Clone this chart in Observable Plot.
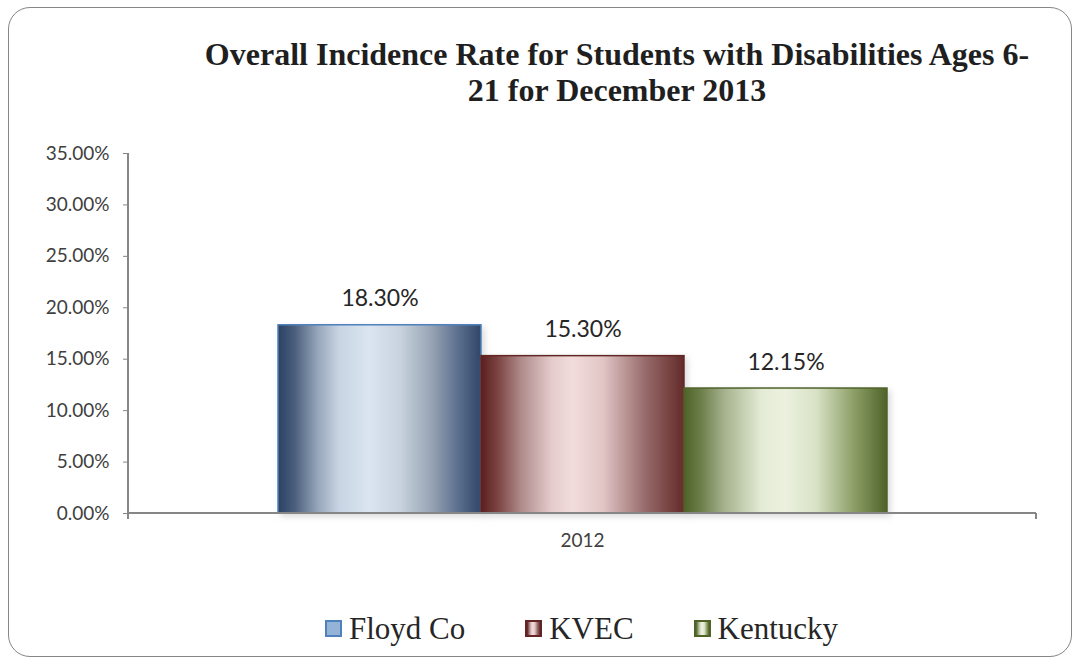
<!DOCTYPE html>
<html><head><meta charset="utf-8">
<script src="https://cdn.jsdelivr.net/npm/d3@7"></script>
<script src="https://cdn.jsdelivr.net/npm/@observablehq/plot@0.6"></script>
<style>
body{margin:0;background:#fff;}
#wrap{position:relative;width:1074px;height:658px;overflow:hidden;background:#fff;}
#frame{position:absolute;left:8px;top:7px;width:1064px;height:650px;border:1.5px solid #868686;border-radius:22px;box-sizing:border-box;}
#title{position:absolute;left:160px;width:914px;top:36px;text-align:center;font-family:'Liberation Serif','Tinos','DejaVu Serif',serif;font-weight:bold;font-size:32px;line-height:36px;color:#1f1f1f;}
#chart{position:absolute;left:0;top:0;}
#legend{position:absolute;left:0;width:1163px;top:613px;height:31px;display:flex;justify-content:center;align-items:center;font-family:'Liberation Serif','Tinos','DejaVu Serif',serif;font-size:31px;line-height:31px;color:#262626;}
.item{display:flex;align-items:center;margin:0 30px;}
.sw{width:17px;height:17px;box-sizing:border-box;margin-right:7px;}
</style></head>
<body>
<div id="wrap">
  <div id="frame"></div>
  <div id="title">Overall Incidence Rate for Students with Disabilities Ages 6-<br>21 for December 2013</div>
  <div id="chart"></div>
  <div id="legend"></div>
</div>
<script>
const years = ["2012"];
const series = ["Floyd Co", "KVEC", "Kentucky"];
const values = [0.183, 0.153, 0.1215];
const yTicks = [0, 0.05, 0.10, 0.15, 0.20, 0.25, 0.30, 0.35];
const edgeColors = ["#4f81bd", "#632523", "#4f6228"];
const gradIds = ["gFloyd", "gKVEC", "gKy"];
const gradStops = [
  [[0,"#2b4163"],[0.08,"#4a5d7c"],[0.2,"#98a8bd"],[0.3,"#c8d4e3"],[0.45,"#dbe5f1"],[0.6,"#c9d3df"],[0.75,"#9aa6b6"],[0.88,"#5f7290"],[1,"#2f4668"]],
  [[0,"#5c1f1d"],[0.08,"#7a4240"],[0.2,"#b08c8c"],[0.35,"#e6cccc"],[0.45,"#f2dcdb"],[0.6,"#e2c6c6"],[0.8,"#9a6e6e"],[1,"#632a28"]],
  [[0,"#4f6228"],[0.08,"#6b7d48"],[0.2,"#a6b28e"],[0.38,"#e3ebd5"],[0.5,"#ebf1de"],[0.65,"#d9e2c6"],[0.85,"#879a61"],[1,"#4f6228"]]
];

const rows = series.map((s, i) => ({year: years[0], series: s, value: values[i]}));
const fmt = d3.format(".2%");

function axisLines(index, scales, vals, dims) {
  const x0 = dims.marginLeft, x1 = dims.width - dims.marginRight;
  const yb = dims.height - dims.marginBottom, yt = dims.marginTop;
  const g = d3.create("svg:g").attr("stroke", "#868686").attr("stroke-width", 2).attr("fill", "none");
  g.append("path").attr("d", `M${x0},${yt}V${yb + 6}M${x1},${yb}V${yb + 6}M${x0},${yb}H${x1}`);
  return g.node();
}

const plot = Plot.plot({
  width: 1074,
  height: 658,
  marginLeft: 128,
  marginRight: 38,
  marginTop: 153,
  marginBottom: 145,
  style: {background: "transparent", fontFamily: "Lato, 'Open Sans', sans-serif", fontSize: "19px", color: "#868686"},
  facet: {data: rows, x: "year"},
  fx: {domain: years, padding: 0, axis: "bottom", label: null, tickSize: 0, tickPadding: 20},
  x: {domain: series, axis: null, paddingInner: 0, paddingOuter: 0.736},
  y: {domain: [0, 0.35], ticks: yTicks, tickFormat: fmt, tickSize: 5, tickPadding: 14, label: null},
  marks: [
    ...series.map((s, i) => Plot.barY(rows.filter(d => d.series === s), {
      x: "series", y: "value", fill: `url(#${gradIds[i]})`, stroke: edgeColors[i], strokeWidth: 1.5
    })),
    axisLines,
    Plot.text(rows, {x: "series", y: "value", text: d => fmt(d.value), lineAnchor: "bottom", dy: -19, fontSize: 23, fill: "#262626"})
  ]
});

const svg = d3.select(plot.tagName.toLowerCase() === "svg" ? plot : plot.querySelector("svg"));
const defs = svg.insert("defs", ":first-child");
gradIds.forEach((id, i) => {
  const lg = defs.append("linearGradient").attr("id", id).attr("x1", 0).attr("x2", 1).attr("y1", 0).attr("y2", 0);
  gradStops[i].forEach(([o, c]) => lg.append("stop").attr("offset", o).attr("stop-color", c));
});
const flt = defs.append("filter").attr("id", "shadow").attr("x", "-10%").attr("y", "-10%").attr("width", "130%").attr("height", "130%");
flt.append("feDropShadow").attr("dx", 3).attr("dy", 3).attr("stdDeviation", 3).attr("flood-color", "#999").attr("flood-opacity", 0.35);
svg.selectAll("rect").filter(function(){ return (this.getAttribute("fill")||"").startsWith("url(") || (this.parentNode.getAttribute("fill")||"").startsWith("url("); }).attr("filter", "url(#shadow)");
svg.selectAll('[aria-label^="y-axis"] text, [aria-label^="fx-axis"] text').attr("fill", "#404040");

document.getElementById("chart").appendChild(plot);

// legend
const legend = d3.select("#legend");
series.forEach((s, i) => {
  const it = legend.append("div").attr("class", "item");
  const bg = i === 0 ? "#95b3d7" : `linear-gradient(to right, ${gradStops[i].map(([o, c]) => `${c} ${o * 100}%`).join(",")})`;
  it.append("div").attr("class", "sw").style("background", bg).style("border", `2px solid ${edgeColors[i]}`);
  it.append("span").text(s);
});
</script>
</body></html>
